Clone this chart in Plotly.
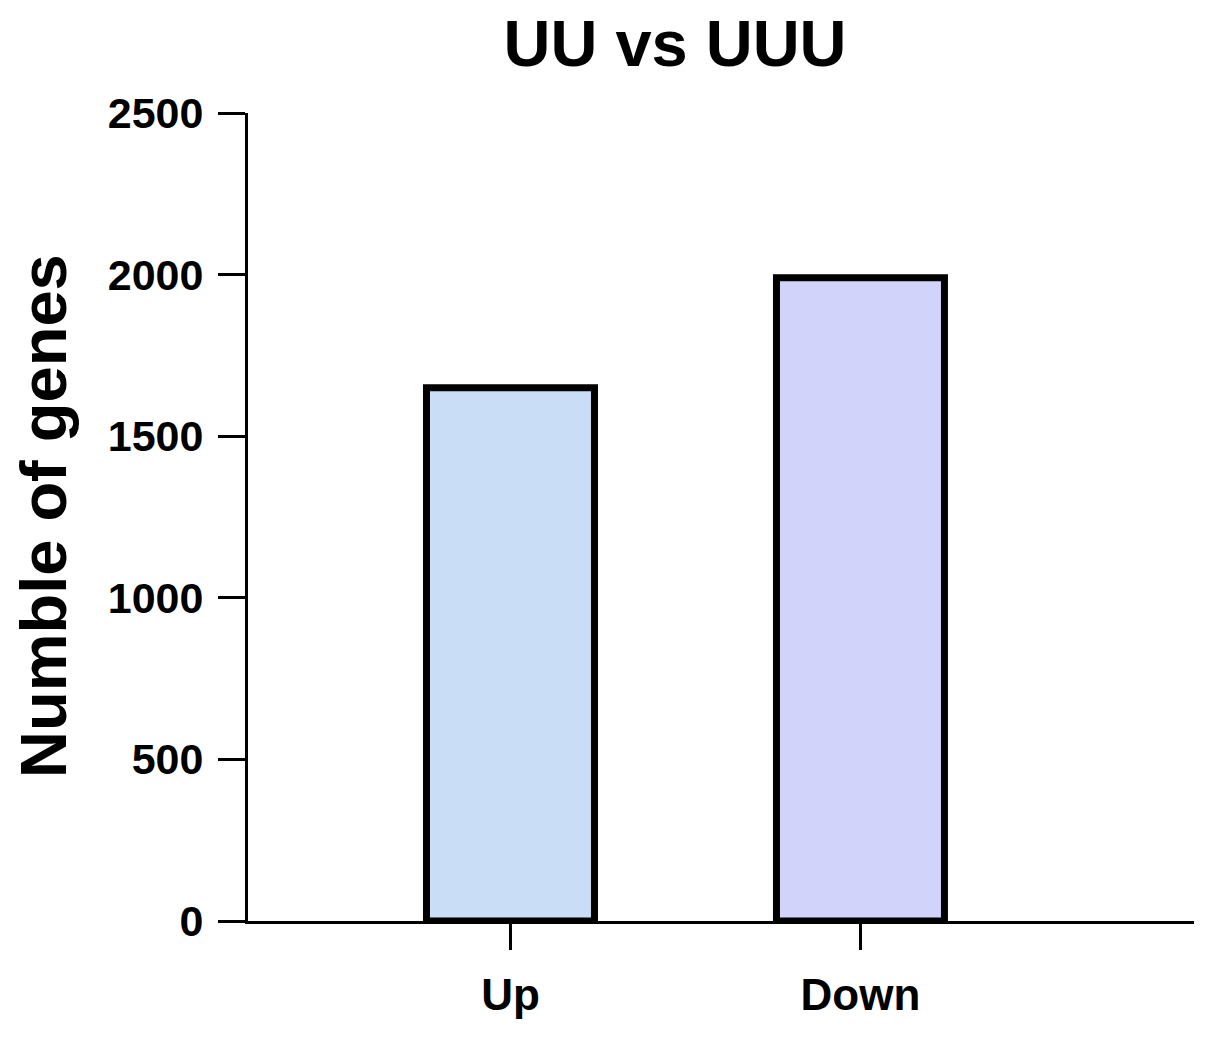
import plotly.graph_objects as go

categories = ["Up", "Down"]
gene_counts = [1650, 1990]
bar_colors = ["#C9DDF6", "#D2D3FB"]
y_ticks = [0, 500, 1000, 1500, 2000, 2500]

FONT = "Liberation Sans, Arial, sans-serif"

# page body adds an 8px offset, so the figure is a bit smaller than the window
W, H = 1202, 1033

fig = go.Figure()
fig.add_trace(
    go.Bar(
        x=categories,
        y=gene_counts,
        width=0.48,
        marker={"color": bar_colors, "line": {"color": "black", "width": 7}},
        showlegend=False,
    )
)

fig.update_layout(
    width=W,
    height=H,
    margin={"l": 240, "r": 16, "t": 105, "b": 120},
    paper_bgcolor="white",
    plot_bgcolor="white",
    font={"family": FONT, "color": "black", "weight": "bold"},
    title={
        "text": "UU vs UUU",
        "font": {"size": 65, "family": FONT, "weight": "bold"},
        "x": 667 / W,
        "xanchor": "center",
        "xref": "container",
        "y": 1 - 35 / H,
        "yanchor": "middle",
        "yref": "container",
    },
    xaxis={
        "range": [-0.75, 1.953],
        "showline": True,
        "linecolor": "black",
        "linewidth": 3,
        "ticks": "outside",
        "ticklen": 26,
        "tickwidth": 3,
        "tickcolor": "black",
        "tickfont": {"size": 44, "family": FONT, "weight": "bold"},
        "ticklabelstandoff": 7,
        "showgrid": False,
        "zeroline": False,
    },
    yaxis={
        "range": [0, 2500],
        "tickvals": y_ticks,
        "showline": True,
        "linecolor": "black",
        "linewidth": 3,
        "ticks": "outside",
        "ticklen": 27,
        "tickwidth": 3,
        "tickcolor": "black",
        "tickfont": {"size": 43, "family": FONT, "weight": "bold"},
        "ticklabelstandoff": 6,
        "showgrid": False,
        "zeroline": False,
    },
    annotations=[
        {
            "text": "Numble of genes",
            "textangle": -90,
            "xref": "paper",
            "yref": "paper",
            "x": (35 - 240) / 946,
            "y": (913 - 508) / 808,
            "xanchor": "center",
            "yanchor": "middle",
            "showarrow": False,
            "font": {"size": 65, "family": FONT, "weight": "bold"},
        }
    ],
)

fig.write_html("out.html")
